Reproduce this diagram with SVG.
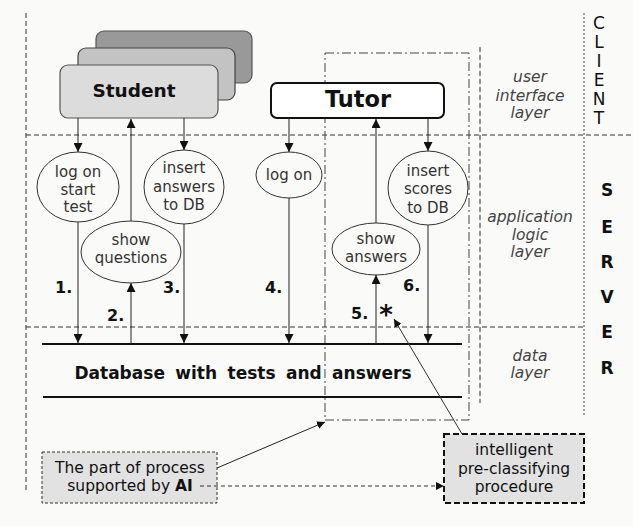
<svg xmlns="http://www.w3.org/2000/svg" width="633" height="526" viewBox="0 0 633 526">
  <defs>
    <marker id="arrow" viewBox="0 0 10 10" refX="10" refY="5" markerWidth="9" markerHeight="9" markerUnits="userSpaceOnUse" orient="auto">
      <path d="M0,0 L10,5 L0,10 z" fill="#111"/>
    </marker>
    <marker id="arrowSmall" viewBox="0 0 10 10" refX="10" refY="5" markerWidth="8" markerHeight="8" markerUnits="userSpaceOnUse" orient="auto">
      <path d="M0,0 L10,5 L0,10 z" fill="#111"/>
    </marker>
  </defs>
  <style>
    .frame { fill: none; stroke: #333; stroke-width: 1; stroke-dasharray: 5 3; }
    .frame-dot { fill: none; stroke: #444; stroke-width: 1; stroke-dasharray: 2 2; }
    .scope { fill: none; stroke: #444; stroke-width: 1; stroke-dasharray: 9 3 2 3; }
    .flow { stroke: #222; stroke-width: 1; fill: none; marker-end: url(#arrow); }
    .proc { fill: none; stroke: #333; stroke-width: 1; }
    .proc-text { font-family: "DejaVu Sans", Verdana, sans-serif; font-size: 15px; fill: #333; text-anchor: middle; }
    .layer { font-family: "DejaVu Sans", Verdana, sans-serif; font-size: 15.5px; font-style: italic; fill: #444; text-anchor: middle; }
    .num { font-family: "DejaVu Sans", Verdana, sans-serif; font-size: 16px; font-weight: bold; fill: #111; }
    .tier { font-family: "DejaVu Sans", Verdana, sans-serif; font-size: 17px; fill: #111; text-anchor: middle; }
    .db { stroke: #111; stroke-width: 2; }
    .note { font-family: "DejaVu Sans", Verdana, sans-serif; fill: #111; text-anchor: middle; }
  </style>

  <rect x="0" y="0" width="633" height="526" fill="#fafaf8"/>

  <!-- layer frame -->
  <g id="frame">
    <line class="frame" x1="26" y1="13" x2="26" y2="493"/>
    <line class="frame" x1="26" y1="135" x2="633" y2="135"/>
    <line class="frame" x1="26" y1="327" x2="584" y2="327"/>
    <line class="frame" x1="480" y1="47" x2="480" y2="403"/>
    <line class="frame-dot" x1="584" y1="13" x2="584" y2="417"/>
  </g>

  <!-- region handled with AI support -->
  <rect id="ai-scope" class="scope" x="325" y="53" width="144" height="367"/>

  <!-- layer labels -->
  <g id="layer-labels">
    <text class="layer" x="530" y="82">user</text>
    <text class="layer" x="530" y="101">interface</text>
    <text class="layer" x="530" y="118">layer</text>
    <text class="layer" x="530" y="222">application</text>
    <text class="layer" x="530" y="240">logic</text>
    <text class="layer" x="530" y="257">layer</text>
    <text class="layer" x="530" y="361">data</text>
    <text class="layer" x="530" y="378">layer</text>
  </g>

  <g id="client-label">
    <text class="tier" x="599" y="29">C</text>
    <text class="tier" x="599" y="48">L</text>
    <text class="tier" x="599" y="67">I</text>
    <text class="tier" x="599" y="86">E</text>
    <text class="tier" x="599" y="105">N</text>
    <text class="tier" x="599" y="124">T</text>
  </g>

  <g id="server-label" font-weight="bold">
    <text class="tier" x="607" y="196">S</text>
    <text class="tier" x="607" y="233">E</text>
    <text class="tier" x="607" y="268">R</text>
    <text class="tier" x="607" y="303">V</text>
    <text class="tier" x="607" y="338">E</text>
    <text class="tier" x="607" y="374">R</text>
  </g>

  <!-- actors -->
  <g id="student">
    <rect x="96" y="31" width="156" height="52" rx="8" fill="#999" stroke="#555" stroke-width="1.2"/>
    <rect x="78" y="48" width="157" height="52" rx="8" fill="#c3c3c3" stroke="#444" stroke-width="1.2"/>
    <rect x="60" y="65" width="158" height="53" rx="8" fill="#dcdcdc" stroke="#555" stroke-width="1.2"/>
    <text x="134" y="97" font-family="'DejaVu Sans', Verdana, sans-serif" font-size="18.5" font-weight="bold" fill="#111" text-anchor="middle">Student</text>
  </g>

  <g id="tutor">
    <rect x="271" y="83" width="173" height="35" rx="6" fill="#fff" stroke="#111" stroke-width="2"/>
    <text x="358" y="107" font-family="'DejaVu Sans', Verdana, sans-serif" font-size="22.5" font-weight="bold" fill="#111" text-anchor="middle">Tutor</text>
  </g>

  <!-- processes -->
  <g id="log-on-start-test">
    <ellipse class="proc" cx="78" cy="187" rx="41" ry="35"/>
    <text class="proc-text" x="78" y="177">log on</text>
    <text class="proc-text" x="78" y="195">start</text>
    <text class="proc-text" x="78" y="212">test</text>
  </g>

  <g id="show-questions">
    <ellipse class="proc" cx="131" cy="252" rx="50" ry="31"/>
    <text class="proc-text" x="131" y="245">show</text>
    <text class="proc-text" x="131" y="263">questions</text>
  </g>

  <g id="insert-answers">
    <ellipse class="proc" cx="184" cy="187" rx="40" ry="37"/>
    <text class="proc-text" x="184" y="173">insert</text>
    <text class="proc-text" x="184" y="192">answers</text>
    <text class="proc-text" x="184" y="210">to DB</text>
  </g>

  <g id="log-on-tutor">
    <ellipse class="proc" cx="289" cy="175" rx="33" ry="23"/>
    <text class="proc-text" x="289" y="180">log on</text>
  </g>

  <g id="show-answers">
    <ellipse class="proc" cx="376" cy="249" rx="44" ry="26"/>
    <text class="proc-text" x="376" y="244">show</text>
    <text class="proc-text" x="376" y="262">answers</text>
  </g>

  <g id="insert-scores">
    <ellipse class="proc" cx="428" cy="188" rx="40" ry="37"/>
    <text class="proc-text" x="428" y="176">insert</text>
    <text class="proc-text" x="428" y="194">scores</text>
    <text class="proc-text" x="428" y="213">to DB</text>
  </g>

  <!-- database -->
  <g id="database">
    <line class="db" x1="42" y1="344" x2="462" y2="344"/>
    <line class="db" x1="43" y1="397" x2="462" y2="397"/>
    <text x="243" y="379" font-family="'DejaVu Sans', Verdana, sans-serif" font-size="17" font-weight="bold" word-spacing="4.5" fill="#111" text-anchor="middle">Database with tests and answers</text>
  </g>

  <!-- AI notes -->
  <g id="ai-note">
    <rect x="42" y="452" width="175" height="51" fill="#e2e2e2" stroke="#333" stroke-width="1" stroke-dasharray="3 2"/>
    <text class="note" x="130" y="473" font-size="15.5" fill="#222">The part of process</text>
    <text class="note" x="130" y="491" font-size="15.5" fill="#222">supported by <tspan font-weight="bold">AI</tspan></text>
  </g>

  <g id="pre-classifier">
    <rect x="444" y="434" width="140" height="69" fill="#e2e2e2" stroke="#111" stroke-width="2" stroke-dasharray="6 3"/>
    <text class="note" x="514" y="455" font-size="15.5">intelligent</text>
    <text class="note" x="514" y="473.5" font-size="15.5">pre-classifying</text>
    <text class="note" x="514" y="492" font-size="15.5">procedure</text>
  </g>

  <!-- step numbers -->
  <g id="steps">
    <text class="num" x="55" y="293">1.</text>
    <text class="num" x="107" y="321">2.</text>
    <text class="num" x="163" y="293">3.</text>
    <text class="num" x="265" y="293">4.</text>
    <text class="num" x="351" y="319">5.</text>
    <text class="num" x="403" y="291">6.</text>
    <text x="386" y="324" font-family="'DejaVu Sans', Verdana, sans-serif" font-size="26" font-weight="bold" fill="#111" text-anchor="middle">*</text>
  </g>

  <!-- connectors -->
  <g id="connectors">
    <line class="flow" x1="78" y1="118" x2="78" y2="152"/>
    <line class="flow" x1="78" y1="222" x2="78" y2="343"/>
    <line class="flow" x1="131" y1="344" x2="131" y2="283"/>
    <line class="flow" x1="131" y1="221" x2="131" y2="119"/>
    <line class="flow" x1="184" y1="118" x2="184" y2="150"/>
    <line class="flow" x1="184" y1="224" x2="184" y2="343"/>
    <line class="flow" x1="289" y1="118" x2="289" y2="152"/>
    <line class="flow" x1="289" y1="198" x2="289" y2="343"/>
    <line class="flow" x1="376" y1="344" x2="376" y2="275" stroke="#555"/>
    <line class="flow" x1="376" y1="223" x2="376" y2="119" stroke="#555"/>
    <line class="flow" x1="428" y1="118" x2="428" y2="151"/>
    <line class="flow" x1="428" y1="225" x2="428" y2="343"/>
    <line x1="217" y1="468" x2="325" y2="422" stroke="#222" stroke-width="1" marker-end="url(#arrowSmall)"/>
    <line x1="200" y1="486" x2="444" y2="486" stroke="#333" stroke-width="1" stroke-dasharray="4 3" marker-end="url(#arrowSmall)"/>
    <line x1="462" y1="434" x2="394" y2="319" stroke="#333" stroke-width="1" marker-end="url(#arrowSmall)"/>
  </g>
</svg>
